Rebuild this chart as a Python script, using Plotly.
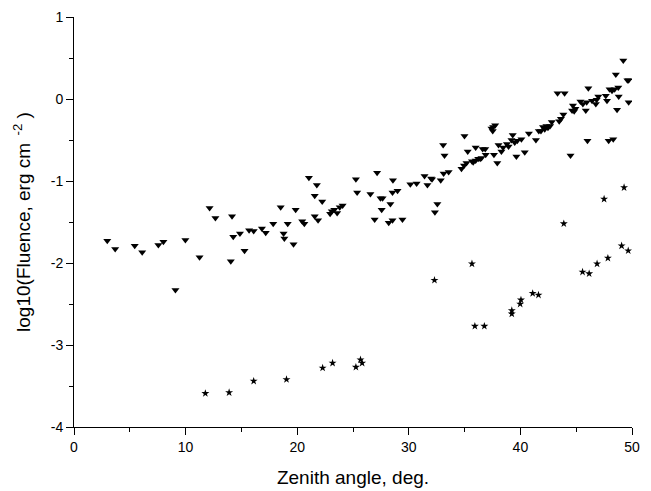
import plotly.graph_objects as go

tri_x = [2.98, 3.69, 5.44, 6.11, 7.56, 8.01, 9.09, 9.98, 11.25, 12.15, 12.67, 14.16, 14.27, 14.05, 14.87,
         15.28, 15.69, 16.10, 16.84, 17.18, 17.85, 18.52, 18.78, 18.85, 19.15, 19.67, 19.86, 20.45, 20.64,
         21.05, 21.57, 21.76, 21.57, 21.87, 22.24, 22.95, 23.10, 23.32, 23.58, 23.81, 24.07, 25.26, 25.37,
         26.56, 26.94, 27.16, 27.46, 27.65, 27.57, 28.20, 28.35, 28.58, 28.54, 28.54, 28.99, 29.43, 30.14,
         30.70, 31.41, 31.67, 32.00, 32.08, 32.34, 32.56, 32.86, 33.08, 33.20, 33.12, 33.57, 34.72, 34.95,
         34.99, 35.17, 35.28, 35.66, 35.77, 35.99, 35.99, 36.22, 36.40, 36.62, 36.85, 36.89, 36.51, 37.41,
         37.56, 37.74, 37.52, 37.63, 37.93, 38.04, 38.30, 38.45, 38.79, 38.94, 39.20, 39.31, 39.49, 39.64,
         39.72, 40.09, 40.39, 40.76, 41.39, 41.65, 41.84, 42.03, 42.18, 42.33, 42.47, 42.66, 42.81, 43.33,
         43.48, 43.63, 43.85, 43.96, 44.49, 44.63, 44.71, 44.82, 44.93, 45.38, 45.60, 45.86, 45.94, 46.01,
         46.09, 46.42, 46.76, 46.83, 46.98, 47.65, 47.76, 47.91, 47.99, 48.21, 48.32, 48.44, 48.55, 48.66,
         48.77, 48.81, 49.22, 49.59, 49.70, 49.70]
tri_y = [-1.73, -1.83, -1.79, -1.87, -1.78, -1.74, -2.33, -1.72, -1.93, -1.33, -1.45, -1.43, -1.68, -1.98, -1.64,
         -1.85, -1.60, -1.61, -1.58, -1.63, -1.52, -1.32, -1.64, -1.70, -1.52, -1.77, -1.35, -1.49, -1.52,
         -0.96, -1.18, -1.05, -1.43, -1.48, -1.25, -1.40, -1.37, -1.35, -1.39, -1.32, -1.30, -0.98, -1.14,
         -1.16, -1.47, -0.90, -1.21, -1.21, -1.35, -1.51, -1.28, -0.99, -1.14, -1.48, -1.12, -1.47, -1.04,
         -1.03, -0.94, -1.05, -0.97, -0.98, -1.38, -1.28, -0.99, -0.56, -0.69, -0.91, -0.89, -0.85, -0.81,
         -0.45, -0.78, -0.64, -0.76, -0.77, -0.59, -0.75, -0.73, -0.73, -0.61, -0.61, -0.68, -0.72, -0.36,
         -0.34, -0.32, -0.39, -0.68, -0.78, -0.56, -0.64, -0.59, -0.55, -0.58, -0.50, -0.44, -0.53, -0.70,
         -0.51, -0.49, -0.65, -0.42, -0.50, -0.39, -0.39, -0.34, -0.37, -0.33, -0.35, -0.33, -0.28, 0.07,
         -0.27, -0.24, -0.19, 0.07, -0.69, -0.14, -0.08, -0.15, -0.12, -0.03, -0.06, -0.14, -0.04, -0.51,
         0.13, -0.02, -0.06, -0.01, 0.03, 0.04, -0.02, -0.51, 0.12, 0.10, -0.49, 0.12, 0.30, -0.13,
         0.14, 0.03, 0.47, 0.23, 0.23, -0.04]

star_x = [11.77, 13.90, 16.10, 19.04, 22.28, 23.17, 25.26, 25.67, 25.82, 32.30, 35.66, 35.92, 36.77,
          39.23, 39.23, 39.98, 40.05, 41.10, 41.62, 43.89, 45.57, 46.16, 46.87, 47.84, 47.50, 49.07,
          49.66, 49.29]
star_y = [-3.59, -3.58, -3.44, -3.42, -3.28, -3.22, -3.27, -3.18, -3.22, -2.21, -2.01, -2.77, -2.77,
          -2.58, -2.62, -2.50, -2.45, -2.37, -2.39, -1.52, -2.11, -2.13, -2.01, -1.94, -1.22, -1.79,
          -1.85, -1.08]

x_ticks = [0, 10, 20, 30, 40, 50]
y_ticks = [-4, -3, -2, -1, 0, 1]

FONT = "Liberation Sans, Arial, sans-serif"

fig = go.Figure()
fig.add_trace(go.Scatter(x=tri_x, y=tri_y, mode="markers",
                         marker=dict(symbol="triangle-down", size=7, color="black"),
                         showlegend=False))
fig.add_trace(go.Scatter(x=star_x, y=star_y, mode="markers",
                         marker=dict(symbol="star", size=6, color="black"),
                         showlegend=False))

axis_common = dict(showgrid=False, zeroline=False, showline=True, linecolor="black", linewidth=1,
                   ticks="outside", ticklen=7, tickcolor="black", tickwidth=1, automargin=False,
                   tickfont=dict(family=FONT, size=14, color="black"))

fig.update_layout(
    width=643, height=483,
    margin=dict(l=66, r=19, t=9, b=64),
    paper_bgcolor="white", plot_bgcolor="white",
    xaxis=dict(range=[0, 50], tickvals=x_ticks, ticktext=[str(v) for v in x_ticks],
               minor=dict(ticks="outside", dtick=5, ticklen=4, tickcolor="black"),
               title=dict(text="Zenith angle, deg.", standoff=16,
                          font=dict(family=FONT, size=19, color="black")),
               **axis_common),
    yaxis=dict(range=[-4, 1], tickvals=y_ticks, ticktext=[str(v) for v in y_ticks],
               minor=dict(ticks="outside", dtick=0.5, ticklen=4, tickcolor="black"),
               ticklabeloverflow="allow",
               title=dict(text="log10(Fluence, erg cm<sup>  -2</sup> )", standoff=15,
                          font=dict(family=FONT, size=19, color="black")),
               **axis_common),
)

fig.write_html("out.html")
